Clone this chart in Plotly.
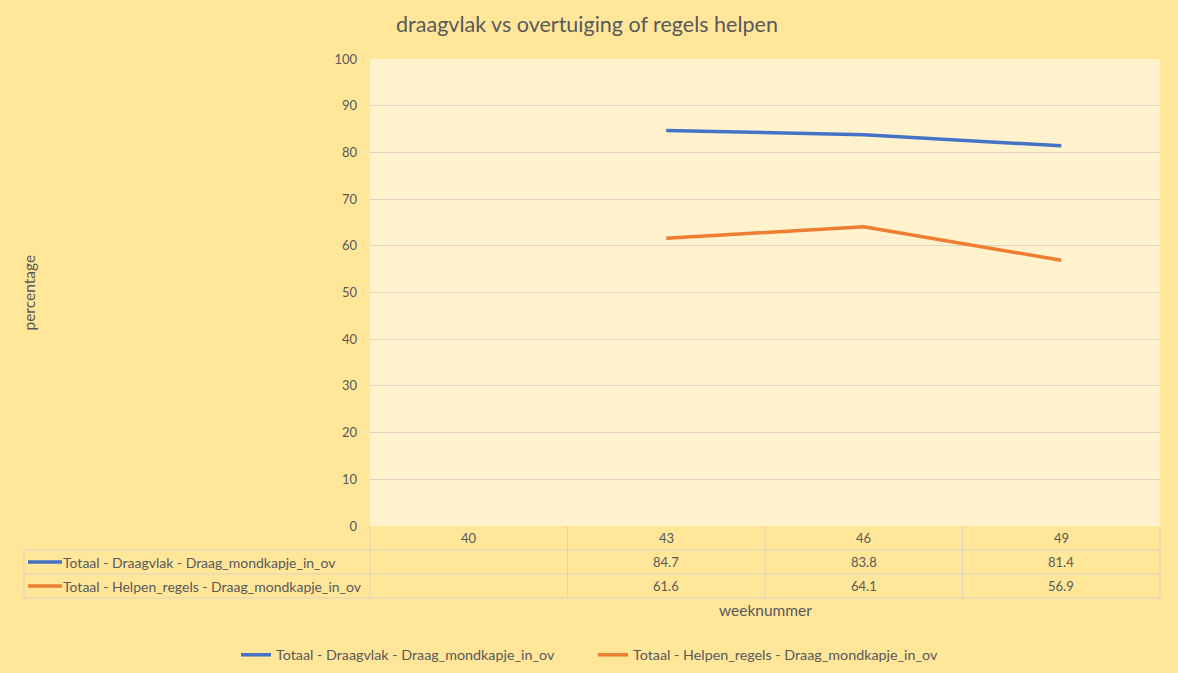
import plotly.graph_objects as go

weeks = ["40", "43", "46", "49"]
draagvlak = [None, 84.7, 83.8, 81.4]
helpen = [None, 61.6, 64.1, 56.9]
series_names = ["Totaal - Draagvlak - Draag_mondkapje_in_ov",
                "Totaal - Helpen_regels - Draag_mondkapje_in_ov"]
series_values = [draagvlak, helpen]
colors = ["#4472C4", "#ED7D31"]
y_ticks = [0, 10, 20, 30, 40, 50, 60, 70, 80, 90, 100]

W, H = 1178, 673
L, R, T, B = 370, 18, 59, 147
pw, ph = W - L - R, H - T - B
text_col = "#595959"
grid_col = "#DDD3C3"
font = "Lato"

def px_x(x):
    return (x - L) / pw

def px_y(y):
    return (H - B - y) / ph

fig = go.Figure()
for name, vals, c in zip(series_names, series_values, colors):
    fig.add_trace(go.Scatter(x=weeks, y=vals, name=name, mode="lines",
                             line=dict(color=c, width=3.5), connectgaps=False))

shapes = []
ann = []
row_h = 24
col_w = pw / len(weeks)
tab_top = H - B
tab_left = 24
for i in range(1, 4):
    y = tab_top + i * row_h
    shapes.append(dict(type="line", xref="paper", yref="paper",
                       x0=px_x(tab_left), x1=1, y0=px_y(y), y1=px_y(y),
                       line=dict(color=grid_col, width=1)))
for j in range(len(weeks) + 1):
    x = L + j * col_w
    shapes.append(dict(type="line", xref="paper", yref="paper",
                       x0=px_x(x), x1=px_x(x), y0=px_y(tab_top), y1=px_y(tab_top + 3 * row_h),
                       line=dict(color=grid_col, width=1)))
shapes.append(dict(type="line", xref="paper", yref="paper",
                   x0=px_x(tab_left), x1=px_x(tab_left), y0=px_y(tab_top + row_h),
                   y1=px_y(tab_top + 3 * row_h), line=dict(color=grid_col, width=1)))

def add_text(x, y, text, size, xanchor="center", angle=0):
    ann.append(dict(x=px_x(x), y=px_y(y), xref="paper", yref="paper", text=text,
                    showarrow=False, xanchor=xanchor, yanchor="middle", textangle=angle,
                    font=dict(size=size, color=text_col, family=font)))

for j, w in enumerate(weeks):
    add_text(L + (j + 0.5) * col_w, tab_top + row_h / 2, w, 13)
for i, (name, vals, c) in enumerate(zip(series_names, series_values, colors)):
    yc = tab_top + (i + 1.5) * row_h
    shapes.append(dict(type="line", xref="paper", yref="paper",
                       x0=px_x(28), x1=px_x(62), y0=px_y(yc), y1=px_y(yc),
                       line=dict(color=c, width=3.5)))
    add_text(61, yc, name, 14, xanchor="left")
    for j, v in enumerate(vals):
        if v is None:
            continue
        add_text(L + (j + 0.5) * col_w, yc, f"{v:.1f}", 13)
add_text(L + pw / 2, 610, "weeknummer", 15.5)
add_text(28, T + ph / 2, "percentage", 15.5, angle=-90)

fig.update_layout(
    width=W, height=H,
    margin=dict(l=L, r=R, t=T, b=B, autoexpand=False),
    paper_bgcolor="#FFE699", plot_bgcolor="#FFF2CC",
    title=dict(text="draagvlak vs overtuiging of regels helpen", x=587 / W, xref="container",
               xanchor="center", y=1 - 24 / H, yref="container", yanchor="middle",
               font=dict(size=21.5, color=text_col, family=font)),
    xaxis=dict(type="category", categoryorder="array", categoryarray=weeks,
               range=[-0.5, len(weeks) - 0.5], showticklabels=False, showgrid=False,
               zeroline=False, showline=False, ticks=""),
    yaxis=dict(range=[0, 100], tickvals=y_ticks, showgrid=True, gridcolor=grid_col,
               gridwidth=1, zeroline=False, showline=False, ticks="",
               tickfont=dict(size=13, color=text_col, family=font), ticklabelstandoff=12),
    showlegend=True,
    legend=dict(orientation="h", xref="container", x=236 / W, xanchor="left",
                yref="container", y=1 - 655 / H, yanchor="middle",
                font=dict(size=14.3, color=text_col, family=font), bgcolor="rgba(0,0,0,0)",
                entrywidth=312, itemwidth=30),
    shapes=shapes, annotations=ann,
    font=dict(family=font, color=text_col),
)
fig.write_html("out.html", config={"displayModeBar": False},
               post_script="document.body.style.margin='0';")
